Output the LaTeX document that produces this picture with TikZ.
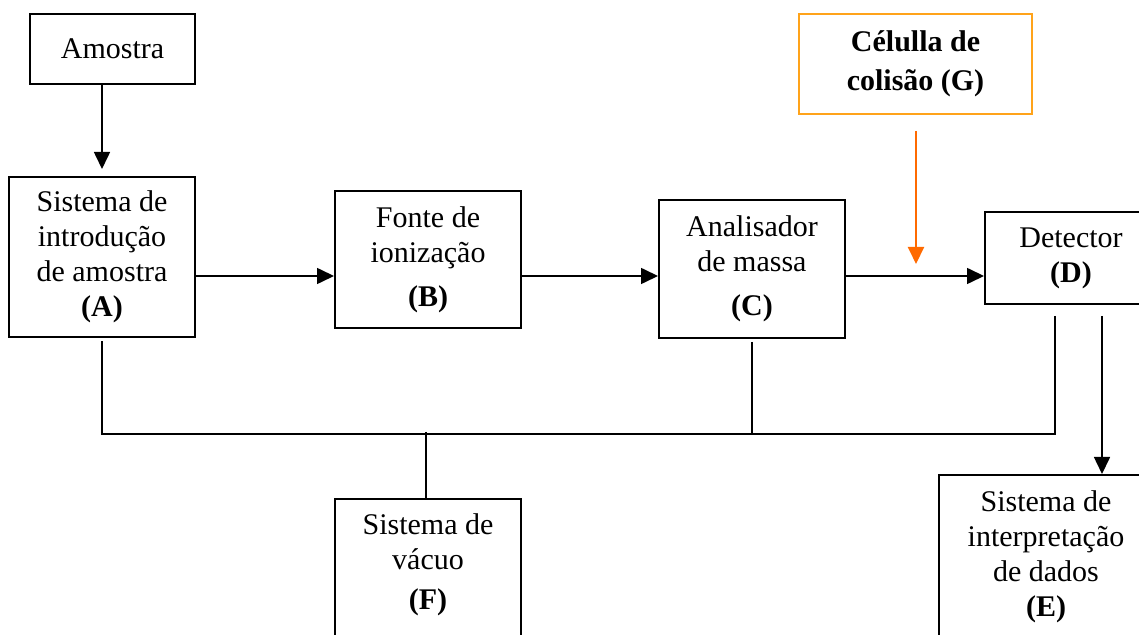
\documentclass[tikz,border=0pt]{standalone}
\usepackage{fontspec}
\setmainfont{Liberation Serif}
\usetikzlibrary{arrows.meta}
\definecolor{gborder}{HTML}{FFA31A}
\definecolor{garrow}{HTML}{FF6A00}
\begin{document}
\begin{tikzpicture}[x=0.5pt,y=-0.5pt]
\tikzset{
  box/.style={draw, line width=1pt, align=center, inner sep=0pt,
    minimum width=93pt, font=\fontsize{15}{17.5}\selectfont},
  txt/.style={align=center, inner sep=0pt, font=\fontsize{15}{17.5}\selectfont},
  conn/.style={line width=0.8pt},
  arr/.style={conn, -{Triangle[length=8.5pt,width=8pt]}},
  garr/.style={draw=garrow, line width=1pt, -{Triangle[length=8.5pt,width=8pt]}, garrow},
}
\fill[white] (0,0) rectangle (1139,635);
\clip (0,0) rectangle (1139,635);

\node[box, minimum width=82.5pt, minimum height=35pt] (am) at (112.5,49) {Amostra};
\node[box, minimum height=80pt] (A) at (102,257)
  {Sistema de\\introdução\\de amostra\\\textbf{(A)}};
\node[box, minimum height=68.5pt] (B) at (428,259.5)
  {Fonte de\\ionização\\[4.5pt]\textbf{(B)}};
\node[box, minimum height=69pt] (C) at (752,269)
  {Analisador\\de massa\\[4.5pt]\textbf{(C)}};
\node[box, minimum width=86pt, minimum height=46pt] (D) at (1071,258)
  {Detector\\\textbf{(D)}};
\node[draw=gborder, line width=0.8pt, align=center, inner sep=0pt,
  minimum width=116.5pt, minimum height=50pt,
  font=\fontsize{15}{19.5}\selectfont\bfseries] (G) at (915.5,64)
  {Célulla de\\colisão (G)};
\node[box, minimum height=90pt, anchor=north] (Fbox) at (428,498) {};
\node[txt] (F) at (428,565) {Sistema de\\vácuo\\[2.5pt]\textbf{(F)}};
\node[box, minimum width=107pt, minimum height=100pt, anchor=north] (Ebox) at (1046,474) {};
\node[txt] (E) at (1046,557) {Sistema de\\interpretação\\de dados\\\textbf{(E)}};

\coordinate (flow) at (0,276);
\coordinate (bus) at (0,434);
\coordinate (dv) at (1055,316);
\coordinate (ev) at (1102,316);
\coordinate (fv) at (426,432);
\coordinate (gt) at (916,264);
\coordinate (gs) at (916,131);

\draw[arr, shorten >=3.5pt] (am.south -| A) -- (A.north);
\draw[arr] (A.east |- flow) -- (B.west |- flow);
\draw[arr] (B.east |- flow) -- (C.west |- flow);
\draw[arr] (C.east |- flow) -- (D.west |- flow);
\draw[garr] (gs) -- (gt);

\draw[conn] (dv) -- (dv |- bus) -- (A.south |- bus) -- ([yshift=-1.5pt]A.south);
\draw[conn] ([yshift=-1.5pt]C.south) -- (C.south |- bus);
\draw[conn] (fv) -- (Fbox.north -| fv);
\draw[arr] (ev) -- (Ebox.north -| ev);
\end{tikzpicture}
\end{document}
